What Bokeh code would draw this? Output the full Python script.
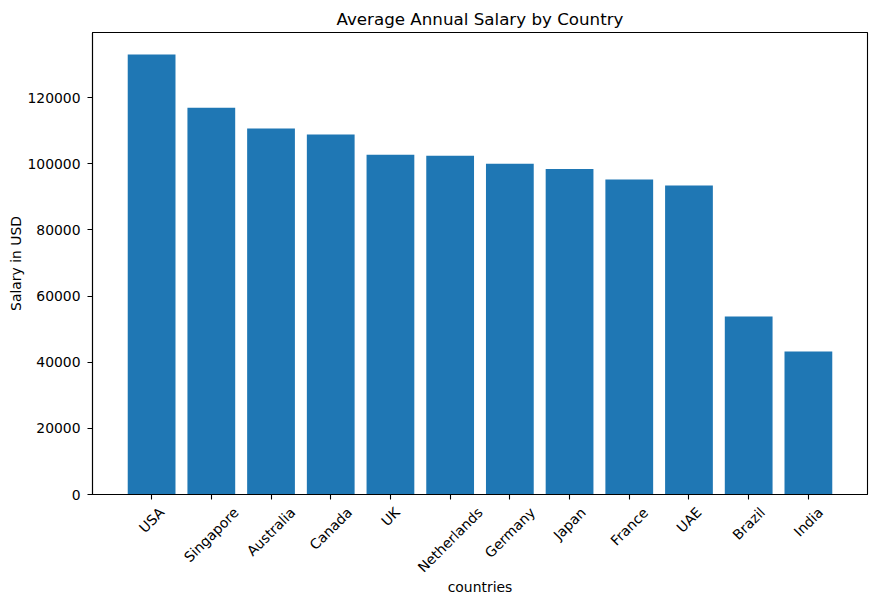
import math
from bokeh.plotting import figure
from bokeh.layouts import column
from bokeh.models import Range1d, FixedTicker, ColumnDataSource
from bokeh.core.properties import value
from bokeh.embed import file_html
from bokeh.resources import INLINE

countries = ["USA", "Singapore", "Australia", "Canada", "UK", "Netherlands",
             "Germany", "Japan", "France", "UAE", "Brazil", "India"]
salaries = [133000, 116900, 110600, 108800, 102700, 102400,
            100000, 98400, 95200, 93400, 53800, 43200]
y_ticks = [0, 20000, 40000, 60000, 80000, 100000, 120000]

FONT = "DejaVu Sans"
TICK_SIZE = 13.9  # px, 10pt at 100 dpi

# rough DejaVu Sans advance widths (em), used to centre the rotated labels
EM = {
    "a": .613, "b": .635, "c": .550, "d": .635, "e": .615, "f": .352, "g": .635,
    "h": .634, "i": .278, "j": .278, "k": .579, "l": .278, "m": .974, "n": .634,
    "o": .612, "p": .635, "q": .635, "r": .411, "s": .521, "t": .392, "u": .634,
    "v": .592, "w": .818, "x": .592, "y": .592, "z": .525,
    "A": .684, "B": .686, "C": .698, "D": .770, "E": .632, "F": .575, "G": .775,
    "H": .752, "I": .295, "J": .295, "K": .656, "L": .557, "M": .863, "N": .748,
    "O": .787, "P": .603, "Q": .787, "R": .695, "S": .635, "T": .611, "U": .732,
    "V": .684, "W": .989, "X": .685, "Y": .611, "Z": .685,
}

W, TOP_H, STRIP_H = 876, 505, 98
AXIS_Y = 494  # page y of the x axis line (bottom of the frame)


def label_centre(text):
    # distance below the axis line of the rotated label's centre (matplotlib style)
    w = sum(EM.get(ch, 0.6) for ch in text) * TICK_SIZE
    return 9.7 + (w + 16.0) / (2 * math.sqrt(2))


xs = list(range(len(countries)))
x_range = Range1d(-0.99, 11.99)

p = figure(width=W, height=TOP_H, output_backend="svg", toolbar_location=None,
           x_range=x_range, y_range=Range1d(0, 139650),
           min_border_left=92, min_border_right=9, min_border_top=32,
           min_border_bottom=TOP_H - AXIS_Y)

p.vbar(x=xs, top=salaries, width=0.8, color="#1f77b4", line_color=None)

p.title.text = "Average Annual Salary by Country"
p.title.align = "center"
p.title.text_font = FONT
p.title.text_font_size = "16.7px"
p.title.text_font_style = "normal"
p.title.text_color = "black"
p.title.standoff = 8

p.grid.visible = False
p.outline_line_color = "black"
p.outline_line_width = 1.1

for ax in (p.xaxis[0], p.yaxis[0]):
    ax.axis_line_color = "black"
    ax.axis_line_width = 1.1
    ax.major_tick_line_color = "black"
    ax.major_tick_line_width = 1.1
    ax.major_tick_in = 0
    ax.major_tick_out = 5
    ax.minor_tick_line_color = None
    ax.major_label_text_font = FONT
    ax.major_label_text_font_size = f"{TICK_SIZE}px"
    ax.major_label_text_color = "black"
    ax.axis_label_text_font = FONT
    ax.axis_label_text_font_size = f"{TICK_SIZE}px"
    ax.axis_label_text_font_style = "normal"
    ax.axis_label_text_color = "black"

p.xaxis.ticker = FixedTicker(ticks=xs)
p.xaxis.major_label_overrides = {i: "" for i in xs}
p.xaxis.major_label_text_font_size = "0px"
p.xaxis.major_label_standoff = 0

p.yaxis.ticker = FixedTicker(ticks=y_ticks)
p.yaxis.major_label_overrides = {t: str(t) for t in y_ticks}
p.yaxis.major_label_standoff = 7
p.yaxis.axis_label = "Salary in USD"
p.yaxis.axis_label_standoff = 0

# strip below the chart for the rotated category labels and the x axis title
# (1 data unit = 1 px, 0 = top of the strip)
strip = figure(width=W, height=STRIP_H, output_backend="svg", toolbar_location=None,
               x_range=x_range, y_range=Range1d(-STRIP_H, 0),
               x_axis_location=None, y_axis_location=None,
               min_border_left=92, min_border_right=9, min_border_top=0,
               min_border_bottom=0)
strip.outline_line_color = None
strip.grid.visible = False

# the rotated labels start just under the axis, inside the top figure's border
offset = AXIS_Y - TOP_H
labels = ColumnDataSource(data=dict(
    x=xs, y=[-(label_centre(c) + offset) for c in countries], text=countries))
strip.text(x="x", y="y", text="text", source=labels, angle=math.pi / 4,
           text_align="center", text_baseline="middle",
           text_font=value(FONT), text_font_size=value(f"{TICK_SIZE}px"),
           text_color="black")

strip.text(x=[(x_range.start + x_range.end) / 2], y=[-(586 - TOP_H)],
           text=["countries"], text_align="center", text_baseline="middle",
           text_font=value(FONT), text_font_size=value(f"{TICK_SIZE}px"),
           text_color="black")

layout = column(p, strip, spacing=0)
open("out.html", "w").write(file_html(layout, INLINE))
